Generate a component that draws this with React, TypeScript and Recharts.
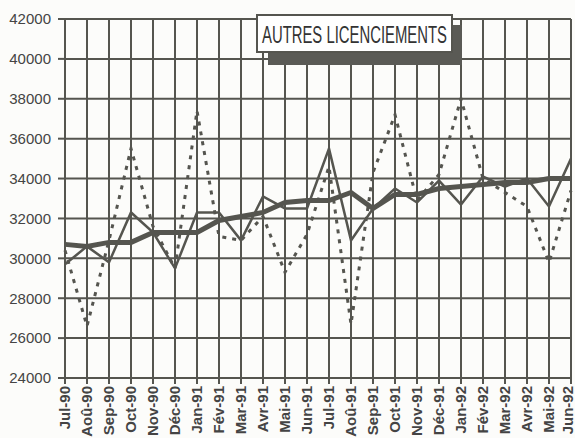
import React from 'react';
import { CartesianGrid, Line, LineChart, XAxis, YAxis } from 'recharts';

const months = [
  'Jul-90', 'Aoû-90', 'Sep-90', 'Oct-90', 'Nov-90', 'Déc-90',
  'Jan-91', 'Fév-91', 'Mar-91', 'Avr-91', 'Mai-91', 'Jun-91',
  'Jul-91', 'Aoû-91', 'Sep-91', 'Oct-91', 'Nov-91', 'Déc-91',
  'Jan-92', 'Fév-92', 'Mar-92', 'Avr-92', 'Mai-92', 'Jun-92',
];

// raw monthly figures (dotted line)
const brut = [
  30400, 26600, 30900, 35500, 31600, 29500,
  37400, 31100, 30900, 32100, 29300, 31200,
  34600, 26700, 34300, 37200, 32900, 34200,
  38000, 34000, 33300, 32600, 29800, 33400,
];

// seasonally adjusted (thin solid line)
const cvs = [
  29700, 30600, 29800, 32300, 31300, 29500,
  32300, 32300, 30900, 33100, 32500, 32500,
  35500, 30900, 32500, 33500, 32800, 33900,
  32700, 34100, 33600, 34000, 32600, 35000,
];

// trend (thick solid line)
const tendance = [
  30700, 30600, 30800, 30800, 31300, 31300,
  31300, 31900, 32100, 32300, 32800, 32900,
  32900, 33300, 32500, 33200, 33200, 33500,
  33600, 33700, 33800, 33800, 34000, 34000,
];

const yTicks = [24000, 26000, 28000, 30000, 32000, 34000, 36000, 38000, 40000, 42000];

const INK = '#55554f';

const data = months.map((month, i) => ({
  month,
  brut: brut[i],
  cvs: cvs[i],
  tendance: tendance[i],
}));

const MonthTick = ({ x, y, payload, index }: any) => {
  // keep the last label inside the page
  const tx = index === months.length - 1 ? x - 3 : x;
  return (
    <text
      x={tx}
      y={y}
      transform={`rotate(-90 ${tx} ${y})`}
      textAnchor="end"
      dy="0.36em"
      fontSize={15}
      fontWeight={700}
      fontFamily="'Liberation Sans Narrow', 'Liberation Sans', Arial, sans-serif"
      fill="#444"
    >
      {payload.value}
    </text>
  );
};

export default function App() {
  return (
    <div style={{ position: 'absolute', left: 0, top: 0, width: 575, height: 438, background: '#fcfcfa' }}>
      <LineChart width={575} height={438} data={data} margin={{ top: 19, right: 4, left: 0, bottom: 0 }}>
        <CartesianGrid stroke={INK} strokeWidth={2} />
        <XAxis
          dataKey="month"
          interval={0}
          height={60}
          tickSize={6}
          tickMargin={2}
          axisLine={{ stroke: INK, strokeWidth: 2 }}
          tickLine={{ stroke: INK, strokeWidth: 2 }}
          tick={<MonthTick />}
        />
        <YAxis
          width={65}
          domain={[24000, 42000]}
          ticks={yTicks}
          interval={0}
          tickSize={7}
          tickMargin={7}
          axisLine={{ stroke: INK, strokeWidth: 2 }}
          tickLine={{ stroke: INK, strokeWidth: 2 }}
          tick={{ fontSize: 15, fill: '#444', fontFamily: "'Liberation Sans', Arial, sans-serif" }}
        />
        <Line
          type="linear"
          dataKey="brut"
          stroke={INK}
          strokeWidth={3}
          strokeDasharray="4 6"
          dot={false}
          isAnimationActive={false}
        />
        <Line
          type="linear"
          dataKey="tendance"
          stroke={INK}
          strokeWidth={5}
          dot={false}
          isAnimationActive={false}
        />
        <Line
          type="linear"
          dataKey="cvs"
          stroke={INK}
          strokeWidth={2.5}
          dot={false}
          isAnimationActive={false}
        />
      </LineChart>
      <svg width={575} height={438} style={{ position: 'absolute', left: 0, top: 0, pointerEvents: 'none' }}>
        <rect x={268} y={25} width={194} height={40} fill="#5a5a55" />
        <rect x={257} y={15} width={195} height={37} fill="#fff" stroke={INK} strokeWidth={2} />
        <text
          x={354.5}
          y={43}
          textAnchor="middle"
          fontSize={24}
          textLength={185}
          lengthAdjust="spacingAndGlyphs"
          fontFamily="'Liberation Sans Narrow', 'Liberation Sans', Arial, sans-serif"
          fill="#333"
        >
          AUTRES LICENCIEMENTS
        </text>
      </svg>
    </div>
  );
}
